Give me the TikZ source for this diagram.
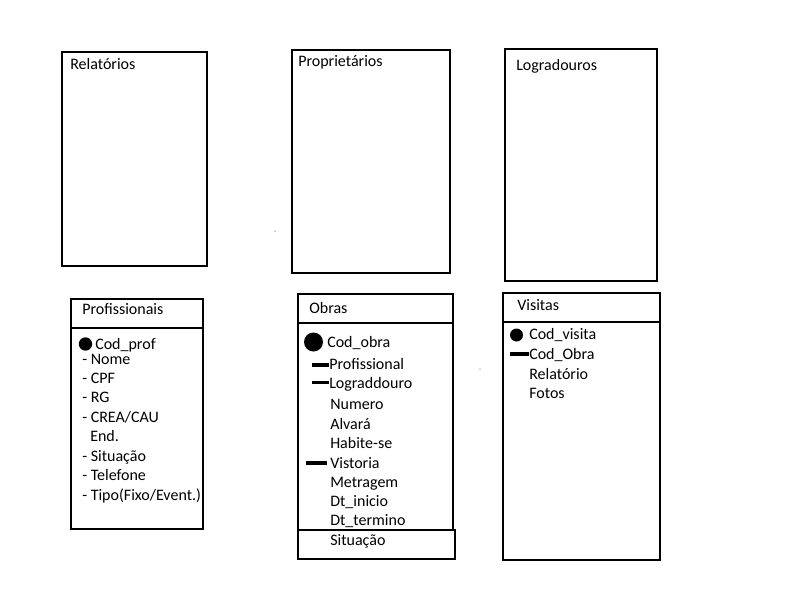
\documentclass[tikz,border=0pt]{standalone}
\usepackage{fontspec}
\setmainfont{Carlito}
\usepackage{tikz}
\usetikzlibrary{shapes,fit,calc,positioning}

\begin{document}
\fontsize{12pt}{14.6pt}\selectfont
\begin{tikzpicture}[x=0.75pt,y=-0.75pt,
	tbl/.style={draw, line width=1.5pt, inner sep=0pt},
	ttl/.style={anchor=base west, inner sep=0pt},
	fld/.style={anchor=base west, inner sep=0pt},
	key/.style={fill, circle, inner sep=0pt},
	fkey/.style={line width=2.8pt}]
			\useasboundingbox (0,0) rectangle (800,600);
			% Define nodes
			\node[tbl, fit={(62,52) (207,266)}] (rel) {} ; %
			\node[tbl, fit={(292,50) (450,273)}] (prop) {} ; %
			\node[tbl, fit={(505,49) (657,281)}] (logr) {} ; %
			\node[tbl, fit={(71,299) (203,529)}] (prof) {} ; %
			\node[tbl, fit={(298,294) (453,530)}] (obras) {} ; %
			\node[tbl, fit={(298,530) (455,559)}] (sit) {} ; %
			\node[tbl, fit={(503,293) (660,560)}] (vis) {} ; %
			\node[ttl] (trel) at (70,69) {Relatórios}; %
			\node[ttl] (tprop) at (298,66) {Proprietários}; %
			\node[ttl] (tlogr) at (516,70) {Logradouros}; %
			\node[ttl] (tprof) at (82,314) {Profissionais}; %
			\node[ttl] (tobras) at (309,313) {Obras}; %
			\node[ttl] (tvis) at (517,310) {Visitas}; %
			%%header lines
			\coordinate (hprof) at (0,328);
			\coordinate (hobras) at (0,323);
			\coordinate (hvis) at (0,322);
			\draw[line width=1.5pt] (prof.west |- hprof) -- (prof.east |- hprof);
			\draw[line width=1.5pt] (obras.west |- hobras) -- (obras.east |- hobras);
			\draw[line width=1.5pt] (vis.west |- hvis) -- (vis.east |- hvis);
			% Profissionais
			\node[key, minimum size=10pt] (kprof) at (85.5,344) {}; %
			\node[fld] (cprof) at (95,349) {Cod\_prof}; %
			\node[fld] (nome) at (82,364) {- Nome}; %
			\node[fld] (cpf) at (82,383) {- CPF}; %
			\node[fld] (rg) at (82,402) {- RG}; %
			\node[fld] (crea) at (82,422) {- CREA/CAU}; %
			\node[fld] (end) at (90,441) {End.}; %
			\node[fld] (psit) at (82,461) {- Situação}; %
			\node[fld] (tel) at (82,480) {- Telefone}; %
			\node[fld] (tipo) at (82,500) {- Tipo(Fixo/Event.)}; %
			% Obras
			\node[key, minimum size=14.25pt] (kobra) at (313.5,342) {}; %
			\node[fld] (cobra) at (327,347) {Cod\_obra}; %
			\node[fld] (oprof) at (329,369) {Profissional}; %
			\node[fld] (ologr) at (329,388) {Lograddouro}; %
			\node[fld] (num) at (330,409) {Numero}; %
			\node[fld] (alv) at (330,429) {Alvará}; %
			\node[fld] (hab) at (330,448) {Habite-se}; %
			\node[fld] (vist) at (330,468) {Vistoria}; %
			\node[fld] (metr) at (330,487) {Metragem}; %
			\node[fld] (dtini) at (330,506) {Dt\_inicio}; %
			\node[fld] (dtter) at (330,525) {Dt\_termino}; %
			\node[fld] (osit) at (330,545) {Situação}; %
			\draw[fkey] (312,365) -- (oprof.base west |- 0,365);
			\draw[fkey] (312,382.5) -- (ologr.base west |- 0,382.5);
			\draw[fkey, line width=2.4pt] (306,463) -- (327,463);
			% Visitas
			\node[key, minimum size=9.75pt] (kvis) at (516.5,335) {}; %
			\node[fld] (cvis) at (529,339) {Cod\_visita}; %
			\node[fld] (vobra) at (529,359) {Cod\_Obra}; %
			\node[fld] (vrel) at (529,379) {Relatório}; %
			\node[fld] (fotos) at (529,398) {Fotos}; %
			\draw[fkey, line width=2.4pt] (510,354) -- (vobra.base west |- 0,354);
			%%stray dots
			\fill (275,231) circle (0.5);
			\fill (480,369) circle (0.5);
\end{tikzpicture}
\end{document}
